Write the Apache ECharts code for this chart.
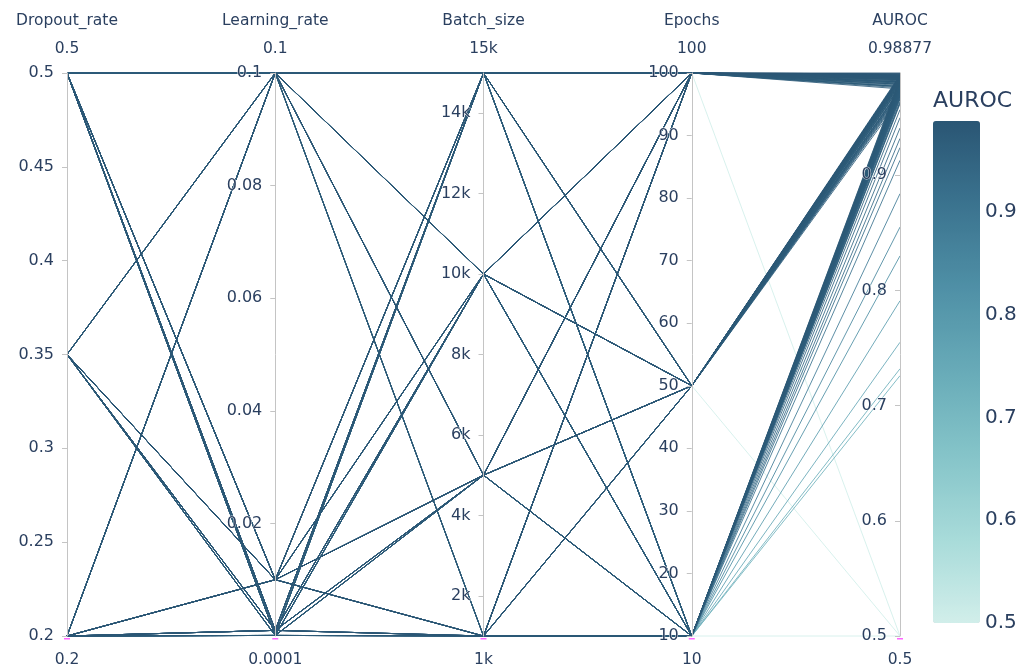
<!DOCTYPE html>
<html>
<head>
<meta charset="utf-8">
<title>Hyperparameter sweep – parallel coordinates</title>
<script src="https://cdn.jsdelivr.net/npm/echarts@6/dist/echarts.min.js"></script>
<style>
  html, body { margin: 0; padding: 0; background: #fff; }
  #chart { width: 1031px; height: 670px; }
</style>
</head>
<body>
<div id="chart"></div>
<script>
// ---- sweep grid ----
const dimensionNames = ['Dropout_rate', 'Learning_rate', 'Batch_size', 'Epochs', 'AUROC'];
const dropoutRates = [0.2, 0.35, 0.5];
const learningRates = [0.0001, 0.001, 0.01, 0.1];
const batchSizes = [1000, 5000, 10000, 15000];
const epochCounts = [10, 50, 100];

// AUROC per run, ordered learning rate -> batch size -> dropout rate
const aurocEpochs10 = [
  0.957, 0.950, 0.941,  0.924, 0.913, 0.884,  0.855, 0.830, 0.791,  0.755, 0.732, 0.726,
  0.981, 0.979, 0.976,  0.978, 0.975, 0.971,  0.972, 0.969, 0.964,  0.967, 0.962, 0.932,
  0.984, 0.983, 0.981,  0.982, 0.980, 0.978,  0.979, 0.977, 0.974,  0.976, 0.973, 0.970,
  0.975, 0.971, 0.500,  0.978, 0.974, 0.968,  0.977, 0.972, 0.966,  0.974, 0.969, 0.963
];
const aurocEpochs50 = [
  0.979, 0.977, 0.974,  0.976, 0.973, 0.970,  0.974, 0.971, 0.968,  0.972, 0.969, 0.966,
  0.986, 0.985, 0.984,  0.985, 0.984, 0.982,  0.984, 0.983, 0.981,  0.983, 0.981, 0.979,
  0.987, 0.986, 0.985,  0.986, 0.985, 0.984,  0.985, 0.984, 0.983,  0.984, 0.983, 0.981,
  0.980, 0.977, 0.500,  0.982, 0.979, 0.975,  0.981, 0.978, 0.974,  0.980, 0.977, 0.972
];
const aurocEpochs100 = [
  0.984, 0.983, 0.981,  0.982, 0.981, 0.979,  0.981, 0.979, 0.977,  0.979, 0.977, 0.975,
  0.988, 0.987, 0.986,  0.987, 0.986, 0.985,  0.986, 0.985, 0.984,  0.985, 0.984, 0.983,
  0.988, 0.987, 0.986,  0.98877, 0.988, 0.987,  0.987, 0.986, 0.985,  0.986, 0.985, 0.984,
  0.983, 0.980, 0.500,  0.985, 0.982, 0.978,  0.984, 0.981, 0.977,  0.983, 0.980, 0.976
];
const aurocByEpochs = [aurocEpochs10, aurocEpochs50, aurocEpochs100];

// ---- axis ticks and end labels ----
const dropoutTicks = [0.2, 0.25, 0.3, 0.35, 0.4, 0.45, 0.5];
const learningRateTicks = [0.02, 0.04, 0.06, 0.08, 0.1];
const batchTicks = [2000, 4000, 6000, 8000, 10000, 12000, 14000];
const epochTicks = [10, 20, 30, 40, 50, 60, 70, 80, 90, 100];
const aurocTicks = [0.5, 0.6, 0.7, 0.8, 0.9];
const axisMaxLabels = ['0.5', '0.1', '15k', '100', '0.98877'];
const axisMinLabels = ['0.2', '0.0001', '1k', '10', '0.5'];
const colorbarTicks = [0.5, 0.6, 0.7, 0.8, 0.9];
const aurocMin = 0.5;
const aurocMax = 0.98877;

// Plotly "Teal" sequential scale
const tealScale = ['#d1eeea', '#a8dbd9', '#85c4c9', '#68abb8', '#4f90a6', '#3b738f', '#2a5674'];

// ---- build rows ----
const rows = [];
epochCounts.forEach((ep, ei) => {
  let k = 0;
  learningRates.forEach(lr => {
    batchSizes.forEach(bs => {
      dropoutRates.forEach(dr => {
        rows.push([dr, lr, bs, ep, aurocByEpochs[ei][k++]]);
      });
    });
  });
});
// higher scores drawn last so they sit on top
rows.sort((a, b) => a[4] - b[4]);

// ---- layout ----
const FONT = 'DejaVu Sans';
const TEXT = '#2a3f5f';
const W = 1031, H = 670;
const PL = 67, PR = 900, PT = 73, PB = 636;
const CB_LEFT = 933, CB_TOP = 121, CB_W = 47, CB_H = 502;

const axisMin = [0.2, 0, 1000, 10, aurocMin];
const axisMax = [0.5, 0.1, 15000, 100, aurocMax];
const tickSets = [dropoutTicks, learningRateTicks, batchTicks, epochTicks, aurocTicks];
const tickFormat = [
  v => String(v),
  v => String(v),
  v => (v / 1000) + 'k',
  v => String(v),
  v => String(v)
];

// ticks and labels sit on the left-hand side of each vertical axis
const parallelAxis = dimensionNames.map((name, i) => ({
  dim: i,
  name: '{t|' + name + '}\n{v|' + axisMaxLabels[i] + '}',
  nameLocation: 'end',
  nameGap: 10,
  nameTextStyle: {
    rich: {
      t: { fontFamily: FONT, fontSize: 15.5, color: TEXT, lineHeight: 28, align: 'center' },
      v: { fontFamily: FONT, fontSize: 15.5, color: TEXT, lineHeight: 28, align: 'center' }
    }
  },
  type: 'value',
  min: axisMin[i],
  max: axisMax[i],
  axisLine: { lineStyle: { color: '#c4c4c4', width: 1 } },
  axisTick: { show: true, length: -5, lineStyle: { color: '#c4c4c4' }, customValues: tickSets[i] },
  axisLabel: {
    margin: -13,
    align: 'right',
    verticalAlign: 'middle',
    fontFamily: FONT, fontSize: 16, color: TEXT,
    customValues: tickSets[i],
    formatter: tickFormat[i],
    textBorderColor: 'rgba(255,255,255,0.8)', textBorderWidth: 1
  },
  splitLine: { show: false }
}));

const graphics = [];
const step = (PR - PL) / (dimensionNames.length - 1);
axisMinLabels.forEach((txt, i) => {
  const x = PL + i * step;
  graphics.push({
    type: 'text', x: x, y: 660,
    style: { text: txt, fontFamily: FONT, fontSize: 15.5, fill: TEXT, align: 'center', verticalAlign: 'middle' },
    z: 100
  });
  graphics.push({
    type: 'rect', shape: { x: x - 3, y: PB + 2, width: 6, height: 1.5 },
    style: { fill: '#ff00ff', opacity: 0.6 }, z: 100
  });
});
graphics.push({
  type: 'text', x: CB_LEFT, y: 101,
  style: { text: 'AUROC', fontFamily: FONT, fontSize: 22, fill: TEXT, align: 'left', verticalAlign: 'middle' },
  z: 100
});
colorbarTicks.forEach(v => {
  graphics.push({
    type: 'text', x: CB_LEFT + CB_W + 5,
    y: CB_TOP + (aurocMax - v) / (aurocMax - aurocMin) * CB_H,
    style: { text: String(v), fontFamily: FONT, fontSize: 20, fill: TEXT, align: 'left', verticalAlign: 'middle' },
    z: 100
  });
});

const chart = echarts.init(document.getElementById('chart'), null, { renderer: 'canvas' });
chart.setOption({
  animation: false,
  backgroundColor: '#fff',
  textStyle: { fontFamily: FONT },
  parallel: {
    left: PL, right: W - PR, top: PT, bottom: H - PB,
    layout: 'horizontal'
  },
  parallelAxis: parallelAxis,
  visualMap: {
    type: 'continuous',
    min: aurocMin, max: aurocMax,
    dimension: 4,
    seriesIndex: 0,
    calculable: false,
    hoverLink: false,
    left: CB_LEFT, top: CB_TOP,
    padding: 0,
    itemWidth: CB_W, itemHeight: CB_H,
    text: null,
    showLabel: false,
    inRange: { color: tealScale }
  },
  graphic: graphics,
  series: [{
    type: 'parallel',
    data: rows,
    smooth: false,
    lineStyle: { width: 0.9, opacity: 0.95 },
    inactiveOpacity: 1,
    activeOpacity: 1,
    emphasis: { disabled: true },
    z: 1
  }]
});
</script>
</body>
</html>
